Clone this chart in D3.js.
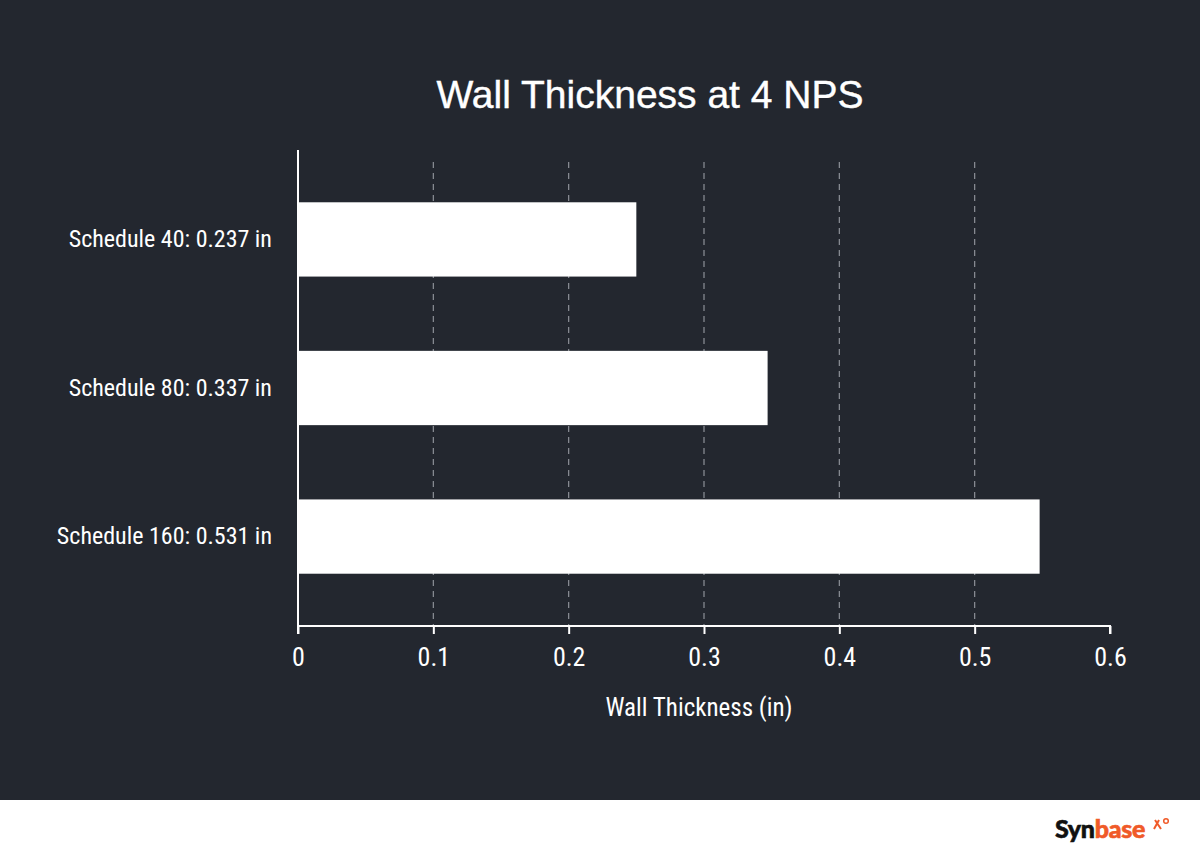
<!DOCTYPE html>
<html><head><meta charset="utf-8">
<script src="https://cdn.jsdelivr.net/npm/d3@7"></script>
<style>
html,body{margin:0;padding:0;background:#fff;}
svg{display:block;}
</style></head>
<body>
<svg id="chart" width="1200" height="864"></svg>
<script>
const categories = ["Schedule 40: 0.237 in", "Schedule 80: 0.337 in", "Schedule 160: 0.531 in"];
const values = [0.25, 0.347, 0.548];
const tickValues = [0, 0.1, 0.2, 0.3, 0.4, 0.5, 0.6];
const gridValues = [0.1, 0.2, 0.3, 0.4, 0.5];
const title = "Wall Thickness at 4 NPS";
const xTitle = "Wall Thickness (in)";

const svg = d3.select("#chart");
const W = 1200, H = 864;
const narrow = "'Liberation Sans Narrow','Arial Narrow','Roboto Condensed','Liberation Sans',sans-serif";

svg.append("rect").attr("x",0).attr("y",0).attr("width",W).attr("height",800).attr("fill","#23272f");
svg.append("rect").attr("x",0).attr("y",800).attr("width",W).attr("height",64).attr("fill","#ffffff");

const x = d3.scaleLinear().domain([0,0.6]).range([298,1110]);
const y = d3.scaleBand().domain(categories).range([128,648]).paddingInner(0.5).paddingOuter(0.5);
const axisY = 626;

// title
svg.append("text").attr("x",650).attr("y",108).attr("text-anchor","middle")
  .attr("fill","#ffffff").attr("font-family","'Liberation Sans',Arial,sans-serif")
  .attr("font-size",39).attr("stroke","#ffffff").attr("stroke-width",0.4).text(title);

// gridlines
svg.append("g").selectAll("line").data(gridValues).join("line")
  .attr("x1",d=>x(d)).attr("x2",d=>x(d)).attr("y1",162).attr("y2",axisY)
  .attr("stroke","#8d9198").attr("stroke-width",1.2).attr("stroke-dasharray","6,5");

// bars
svg.append("g").selectAll("rect").data(values).join("rect")
  .attr("x",x(0)).attr("y",(d,i)=>y(categories[i]))
  .attr("width",d=>x(d)-x(0)).attr("height",y.bandwidth())
  .attr("fill","#ffffff");

// x axis
const xAxis = d3.axisBottom(x).tickValues(tickValues).tickSize(8).tickPadding(14)
  .tickFormat(d=>d===0?"0":d3.format(".1f")(d));
const gx = svg.append("g").attr("transform",`translate(0,${axisY})`).call(xAxis);
gx.select(".domain").attr("stroke","#ffffff").attr("stroke-width",2).attr("d",`M${x(0)},8V0H${x(0.6)}V8`);
gx.selectAll(".tick line").attr("stroke","#ffffff").attr("stroke-width",2);
gx.selectAll(".tick text").attr("fill","#ffffff").attr("font-family",narrow).attr("font-size",26);

// y axis
const yAxis = d3.axisLeft(y).tickSize(0).tickPadding(26);
const gy = svg.append("g").attr("transform",`translate(${x(0)},0)`).call(yAxis);
gy.select(".domain").attr("stroke","#ffffff").attr("stroke-width",2).attr("d",`M0,150V${axisY}`);
gy.selectAll(".tick text").attr("fill","#ffffff").attr("font-family",narrow).attr("font-size",24);

// x title
svg.append("text").attr("x",699).attr("y",716).attr("text-anchor","middle")
  .attr("fill","#ffffff").attr("font-family",narrow).attr("font-size",25).text(xTitle);

// logo
const logo = svg.append("text").attr("x",1055).attr("y",838)
  .attr("font-family","'Lato','Liberation Sans',sans-serif").attr("font-weight",900).attr("font-size",25)
  .attr("letter-spacing",-0.3);
logo.append("tspan").attr("fill","#111111").attr("stroke","#111111").attr("stroke-width",0.6).text("Syn");
logo.append("tspan").attr("fill","#f05a28").attr("stroke","#f05a28").attr("stroke-width",0.6).text("base");
svg.append("path").attr("d","M1155,820 L1161,829 M1159,820 L1154,829").attr("stroke","#f05a28").attr("stroke-width",2).attr("fill","none");
svg.append("circle").attr("cx",1166).attr("cy",821).attr("r",2.3).attr("stroke","#f05a28").attr("stroke-width",1.5).attr("fill","none");
</script>
</body></html>
